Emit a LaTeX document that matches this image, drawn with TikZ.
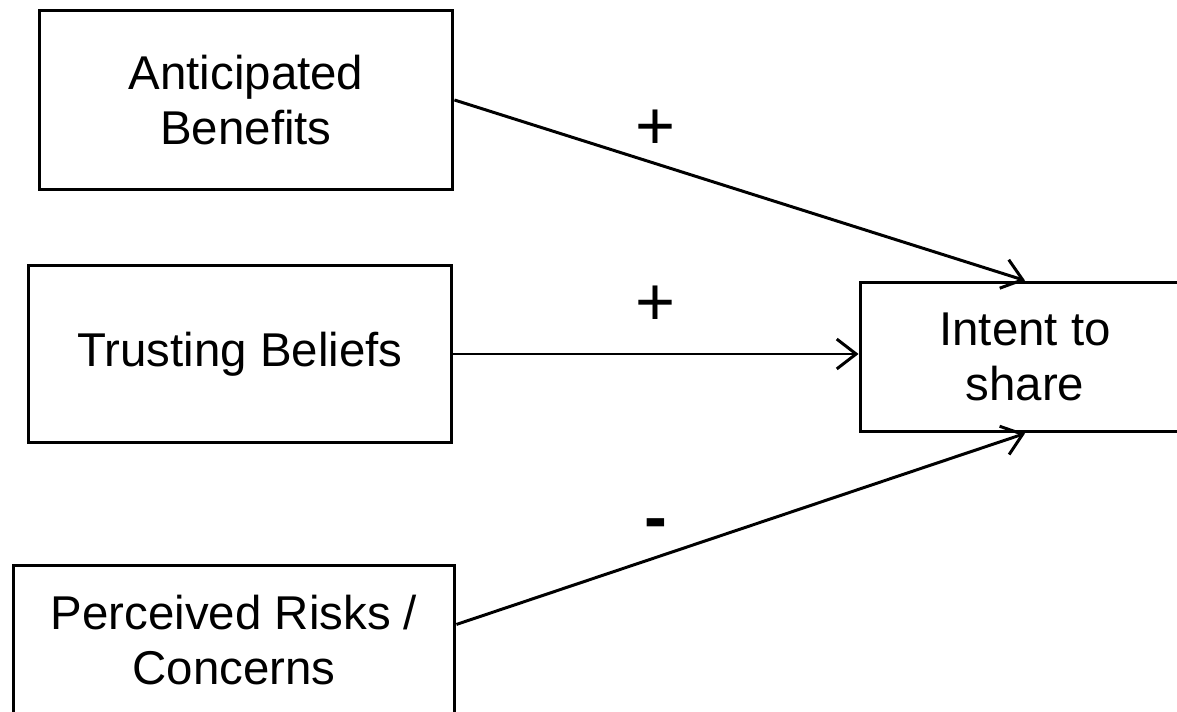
\documentclass[tikz,border=0pt]{standalone}
\usepackage{fontspec}
\setmainfont{Liberation Sans}
\usetikzlibrary{arrows.meta}
\tikzset{>/.tip={Straight Barb[length=11pt,width=17pt]},
  factor/.style={draw,line width=1.7pt,align=center,inner sep=0pt,
    font=\fontsize{27}{31.5}\selectfont},
  sign/.style={inner sep=0pt,font=\fontsize{39}{44}\selectfont}}

\begin{document}
\begin{tikzpicture}[x=0.02cm,y=-0.02cm]
\useasboundingbox (0,0) rectangle (1177,712);
\node[factor,minimum width=8.28cm,minimum height=3.6cm] (ab) at (246,100) {Anticipated\\Benefits};
\node[factor,minimum width=8.48cm,minimum height=3.56cm] (tb) at (240,354) {Trusting Beliefs};
\node[factor,minimum width=8.84cm,minimum height=3cm] (pr) at (234,640) {Perceived Risks /\\Concerns};
\node[factor,minimum width=6.6cm,minimum height=3cm] (is) at (1025,357) {Intent to\\share};
\node[sign] (p1) at (656,130) {+};
\node[sign] (p2) at (656,306) {+};
\node[sign,font=\fontsize{39}{44}\selectfont\bfseries] (m1) at (656,530) {-};
\draw[->,line width=1.7pt] (ab.east) to (is.north);
\draw[->,line width=1.7pt] (tb.east) to (tb.east -| is.west);
\draw[->,line width=1.7pt] (pr.4) to (is.south);
\end{tikzpicture}
\end{document}
